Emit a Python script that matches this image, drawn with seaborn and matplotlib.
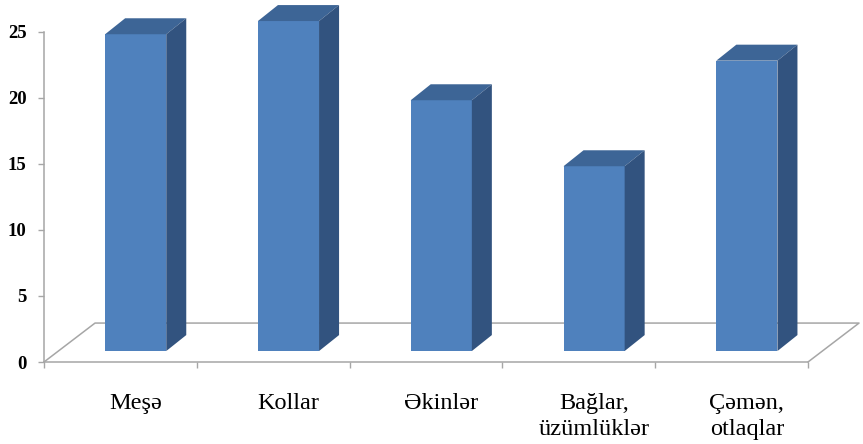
import numpy as np
import pandas as pd
import matplotlib
matplotlib.use("Agg")
import matplotlib.pyplot as plt
from matplotlib.patches import Polygon
from matplotlib.lines import Line2D
import seaborn as sns

# Land categories and their values
categories = ["Meşə", "Kollar", "Əkinlər", "Bağlar,\nüzümlüklər", "Çəmən,\notlaqlar"]
values = [24, 25, 19, 14, 22]
y_ticks = [0, 5, 10, 15, 20, 25]

df = pd.DataFrame({"category": categories, "value": values})

sns.set_style("white")
plt.rcParams["font.family"] = ["Liberation Serif", "DejaVu Serif"]

FRONT = "#4F81BD"
TOP = "#3D6596"
SIDE = "#32537F"
GRID = "#A6A6A6"

# oblique projection offsets (data units)
FLOOR_DX, FLOOR_DY = 0.334, 2.95    # full floor depth
BAR_DX0, BAR_DY0 = 0.10, 0.83       # bar front plane inside the floor
BAR_DDX, BAR_DDY = 0.131, 1.21      # bar depth

fig = plt.figure(figsize=(8.63, 4.44), dpi=100)
ax = fig.add_axes([44 / 863, 82 / 444, 764 / 863, 330 / 444])

sns.barplot(data=df, x="category", y="value", color=FRONT, saturation=1,
            width=0.4, ax=ax, zorder=3)

n = len(categories)
ax.set_xlim(-0.5, n - 0.5)
ax.set_ylim(0, 25)

# floor parallelogram (front edge is the bottom spine)
fx = [-0.5, -0.5 + FLOOR_DX, n - 0.5 + FLOOR_DX, n - 0.5]
fy = [0, FLOOR_DY, FLOOR_DY, 0]
ax.add_line(Line2D(fx, fy, color=GRID, lw=1.1, clip_on=False, zorder=1))

# extrude each bar into a box
for p in ax.patches:
    p.set_x(p.get_x() + BAR_DX0)
    p.set_y(BAR_DY0)
    p.set_edgecolor("none")
    p.set_clip_on(False)
    x0 = p.get_x()
    x1 = x0 + p.get_width()
    yb = p.get_y()
    yt = yb + p.get_height()
    top = Polygon([(x0, yt), (x1, yt), (x1 + BAR_DDX, yt + BAR_DDY),
                   (x0 + BAR_DDX, yt + BAR_DDY)], closed=True,
                  facecolor=TOP, edgecolor="none", clip_on=False, zorder=3)
    side = Polygon([(x1, yb), (x1 + BAR_DDX, yb + BAR_DDY),
                    (x1 + BAR_DDX, yt + BAR_DDY), (x1, yt)], closed=True,
                   facecolor=SIDE, edgecolor="none", clip_on=False, zorder=3)
    ax.add_patch(top)
    ax.add_patch(side)

# axes styling
for s in ["top", "right"]:
    ax.spines[s].set_visible(False)
for s in ["left", "bottom"]:
    ax.spines[s].set_color(GRID)
    ax.spines[s].set_linewidth(1.1)
    ax.spines[s].set_zorder(1)

ax.set_yticks(y_ticks)
ax.set_yticklabels([str(t) for t in y_ticks], fontsize=13.5, fontweight="bold")
ax.tick_params(axis="y", direction="out", length=4.5, width=1, color=GRID,
               pad=8, left=True, labelcolor="black")

# labels sit under the bars, tick marks at category boundaries
ax.set_xticks(np.arange(n) + BAR_DX0)
ax.set_xticklabels(categories, fontsize=17.5)
ax.set_xticks(np.arange(n + 1) - 0.5, minor=True)
ax.tick_params(axis="x", which="major", length=0, pad=22, labelcolor="black")
ax.tick_params(axis="x", which="minor", direction="out", length=4.5, width=1,
               color=GRID, bottom=True)
for lbl in ax.get_xticklabels():
    lbl.set_linespacing(1.32)

ax.set_xlabel("")
ax.set_ylabel("")

fig.savefig("out.png", dpi=100)
